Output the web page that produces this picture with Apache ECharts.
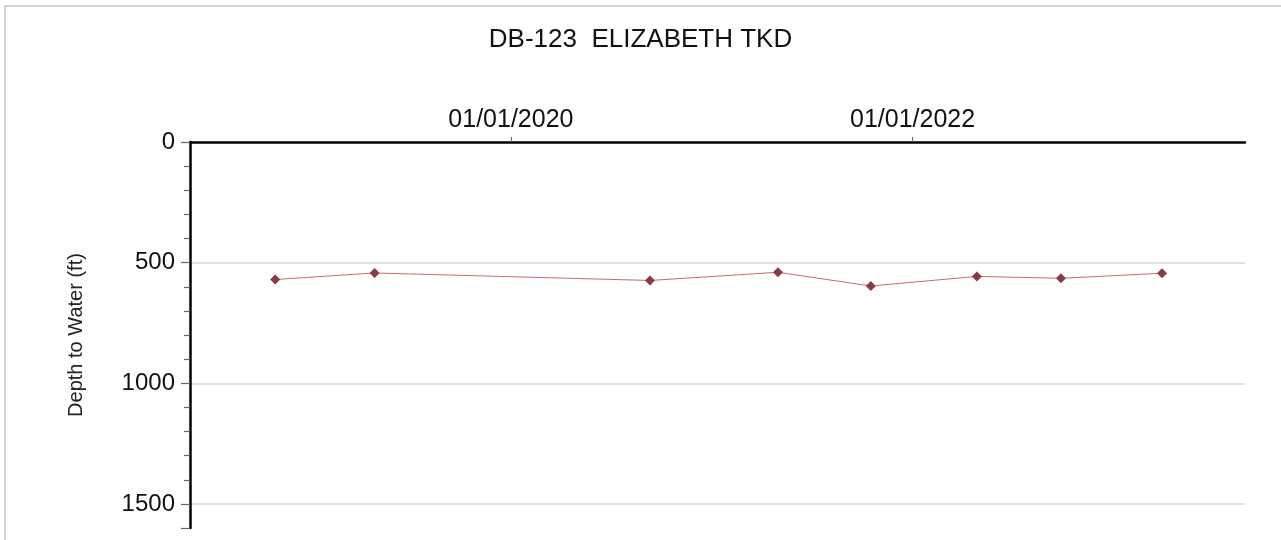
<!DOCTYPE html>
<html>
<head>
<meta charset="utf-8">
<script src="https://cdn.jsdelivr.net/npm/echarts@6/dist/echarts.min.js"></script>
<style>
  html, body { margin: 0; padding: 0; background: #fff; }
  #chart { width: 1281px; height: 540px; }
</style>
</head>
<body>
<div id="chart"></div>
<script>
// data
const sampleDates = ['2018-10-29', '2019-04-28', '2020-09-10', '2021-05-01',
  '2021-10-17', '2022-04-28', '2022-09-28', '2023-03-31']
const depthValues = [570, 543, 574, 540, 597, 557, 565, 544]
const dateTicks = ['2020-01-01', '2022-01-01']

const FONT = 'Arial, "Liberation Sans", sans-serif'
const toTime = (d) => new Date(d + 'T00:00:00Z').getTime()
const pad = (n) => String(n).padStart(2, '0')

const chart = echarts.init(document.getElementById('chart'))

const options = {
  animation: false,
  backgroundColor: '#fff',
  title: {
    text: 'DB-123  ELIZABETH TKD',
    left: 'center',
    top: 22,
    textStyle: { fontFamily: FONT, fontSize: 26, fontWeight: 'normal', color: '#111' }
  },
  // light frame round the chart
  graphic: [{
    type: 'rect',
    silent: true,
    shape: { x: 5, y: 6, width: 1300, height: 600 },
    style: { fill: 'none', stroke: '#d4d4d4', lineWidth: 2 }
  }],
  grid: { left: 190, top: 142, right: 36, bottom: 12 },
  xAxis: {
    // dates as timestamps on a plain value axis, only two labelled ticks
    type: 'value',
    position: 'top',
    min: toTime('2018-05-27'),
    max: toTime('2023-08-29'),
    axisLine: { lineStyle: { color: '#000', width: 2.5 } },
    axisTick: {
      show: true,
      customValues: dateTicks.map(toTime),
      length: 5,
      lineStyle: { color: '#666', width: 1 }
    },
    axisLabel: {
      customValues: dateTicks.map(toTime),
      margin: 9,
      fontFamily: FONT,
      fontSize: 25,
      color: '#111',
      formatter: (v) => {
        const d = new Date(v)
        return pad(d.getUTCMonth() + 1) + '/' + pad(d.getUTCDate()) + '/' + d.getUTCFullYear()
      }
    },
    splitLine: { show: false }
  },
  yAxis: {
    type: 'value',
    inverse: true,
    min: 0,
    max: 1600,
    interval: 500,
    name: 'Depth to Water (ft)',
    nameLocation: 'middle',
    nameGap: 104,
    nameRotate: 90,
    nameTextStyle: { fontFamily: FONT, fontSize: 20, color: '#222' },
    axisLine: { show: true, lineStyle: { color: '#000', width: 2.5 } },
    axisTick: { show: true, length: 9, lineStyle: { color: '#666', width: 1.2 } },
    minorTick: { show: true, splitNumber: 5, length: 6, lineStyle: { color: '#666', width: 1.2 } },
    axisLabel: {
      showMaxLabel: false,
      margin: 15,
      fontFamily: FONT,
      fontSize: 24,
      color: '#111',
      formatter: (v) => String(v)
    },
    splitLine: {
      show: true,
      showMinLine: false,
      showMaxLine: false,
      lineStyle: { color: '#d9d9d9', width: 1.5 }
    }
  },
  series: [{
    type: 'line',
    data: sampleDates.map((d, i) => [toTime(d), depthValues[i]]),
    symbol: 'diamond',
    symbolSize: 10,
    lineStyle: { color: '#c96a6a', width: 1 },
    itemStyle: { color: '#8a3a46' }
  }]
}

chart.setOption(options)
</script>
</body>
</html>
